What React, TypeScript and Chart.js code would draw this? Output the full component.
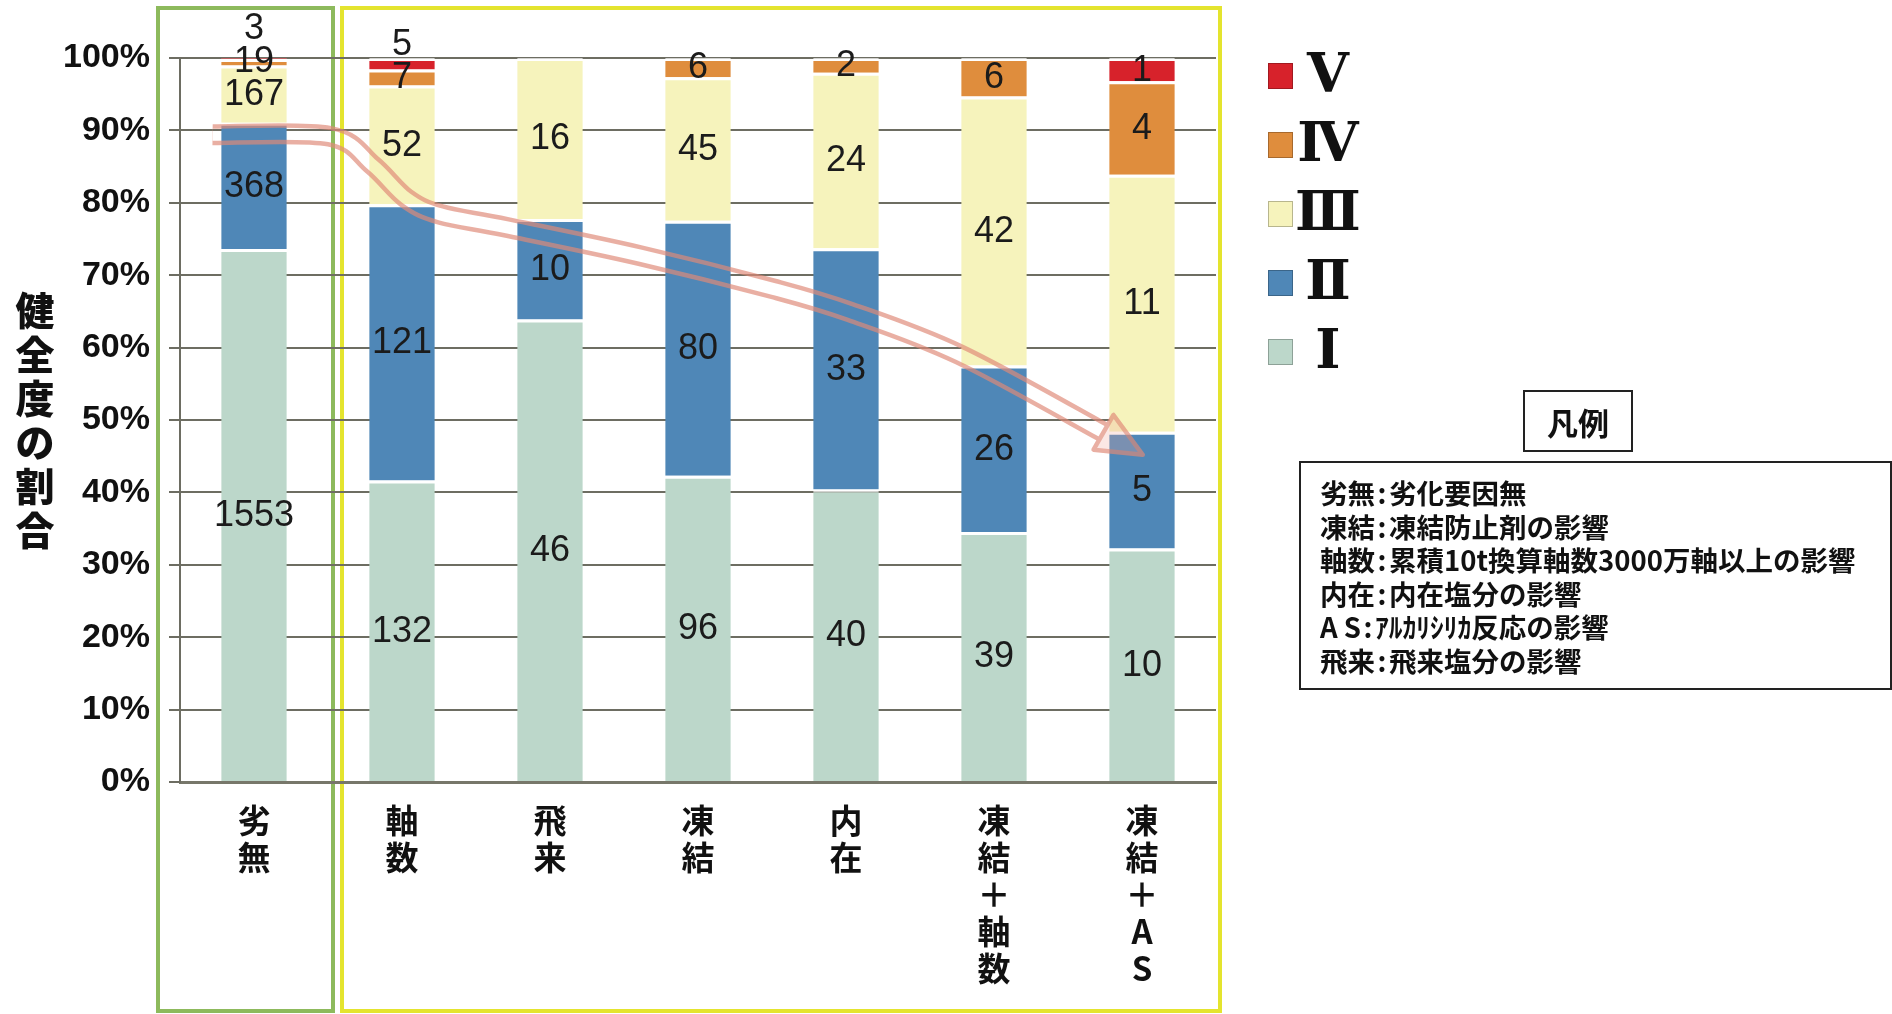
import React, { useEffect, useRef } from 'react';
import { Chart, registerables } from 'chart.js';

Chart.register(...registerables);

// ---------- data ----------
const categories: string[][] = [
  ['劣', '無'],
  ['軸', '数'],
  ['飛', '来'],
  ['凍', '結'],
  ['内', '在'],
  ['凍', '結', '＋', '軸', '数'],
  ['凍', '結', '＋', 'A', 'S'],
];
const seriesNames = ['Ⅰ', 'Ⅱ', 'Ⅲ', 'Ⅳ', 'Ⅴ'];
const countsI = [1553, 132, 46, 96, 40, 39, 10];
const countsII = [368, 121, 10, 80, 33, 26, 5];
const countsIII = [167, 52, 16, 45, 24, 42, 11];
const countsIV = [19, 7, 0, 6, 2, 6, 4];
const countsV = [3, 5, 0, 0, 0, 0, 1];
const seriesColors = ['#bcd7ca', '#4f87b7', '#f6f3bc', '#df8d3d', '#d7222b'];
const yTickValues = [0, 10, 20, 30, 40, 50, 60, 70, 80, 90, 100];
const yTitle = '健全度の割合';
const legendTitle = '凡例';
const noteKeys = ['劣無', '凍結', '軸数', '内在', 'A S', '飛来'];
const noteTexts = [
  '劣化要因無',
  '凍結防止剤の影響',
  '累積10t換算軸数3000万軸以上の影響',
  '内在塩分の影響',
  'ｱﾙｶﾘｼﾘｶ反応の影響',
  '飛来塩分の影響',
];
// trend arrow path in data units: [category index, percent]
const trendArrow: [number, number][] = [
  [-0.28, 89.4],
  [0.51, 89.2],
  [0.8, 85.2],
  [1.03, 80.6],
  [1.26, 78.4],
  [1.71, 76.6],
  [2.61, 72.7],
  [3.51, 68.1],
  [4.03, 64.9],
  [4.77, 59.0],
  [5.74, 48.3],
  [5.97, 45.6],
];

const seriesCounts = [countsI, countsII, countsIII, countsIV, countsV];
const totals = categories.map((_, c) => seriesCounts.reduce((s, arr) => s + arr[c], 0));

// ---------- plugins ----------
const frameBoxes = {
  id: 'frameBoxes',
  beforeDraw(chart: any) {
    const { ctx, chartArea } = chart;
    const xs = chart.scales.x;
    const b01 = xs.getPixelForValue(0.5);
    ctx.save();
    ctx.fillStyle = '#ffffff';
    ctx.fillRect(chartArea.left, chartArea.top, chartArea.right - chartArea.left, chartArea.bottom - chartArea.top);
    ctx.lineWidth = 4;
    ctx.strokeStyle = '#8dba5c';
    ctx.strokeRect(chartArea.left - 22, 8, b01 + 5 - (chartArea.left - 22), chart.height - 11);
    ctx.strokeStyle = '#e4e42e';
    ctx.strokeRect(b01 + 14, 8, chartArea.right + 4 - (b01 + 14), chart.height - 11);
    ctx.restore();
  },
};

function smoothPath(ctx: CanvasRenderingContext2D, pts: { x: number; y: number }[]) {
  ctx.moveTo(pts[0].x, pts[0].y);
  for (let i = 0; i < pts.length - 1; i++) {
    const p0 = pts[i - 1] || pts[i];
    const p1 = pts[i];
    const p2 = pts[i + 1];
    const p3 = pts[i + 2] || p2;
    ctx.bezierCurveTo(
      p1.x + (p2.x - p0.x) / 6,
      p1.y + (p2.y - p0.y) / 6,
      p2.x - (p3.x - p1.x) / 6,
      p2.y - (p3.y - p1.y) / 6,
      p2.x,
      p2.y
    );
  }
}

const trendArrowPlugin = {
  id: 'trendArrow',
  afterDatasetsDraw(chart: any) {
    const xs = chart.scales.x;
    const ys = chart.scales.y;
    const pts = trendArrow.map(([i, p]) => ({ x: xs.getPixelForValue(i), y: ys.getPixelForValue(p) }));
    const tip = pts[pts.length - 1];
    const shaft = pts.slice(0, pts.length - 1);
    const base = shaft[shaft.length - 1];
    const off = document.createElement('canvas');
    off.width = chart.width;
    off.height = chart.height;
    const o = off.getContext('2d')!;
    o.lineJoin = 'round';
    o.lineCap = 'butt';
    o.beginPath();
    smoothPath(o, shaft);
    o.strokeStyle = '#e08a78';
    o.lineWidth = 21;
    o.stroke();
    o.globalCompositeOperation = 'destination-out';
    o.beginPath();
    smoothPath(o, shaft);
    o.lineWidth = 12;
    o.stroke();
    o.globalCompositeOperation = 'source-over';
    // head
    const dx = tip.x - base.x;
    const dy = tip.y - base.y;
    const len = Math.hypot(dx, dy) || 1;
    const nx = -dy / len;
    const ny = dx / len;
    const hw = 20;
    o.beginPath();
    o.moveTo(base.x + nx * hw, base.y + ny * hw);
    o.lineTo(tip.x + (dx / len) * 6, tip.y + (dy / len) * 6);
    o.lineTo(base.x - nx * hw, base.y - ny * hw);
    o.closePath();
    o.fillStyle = 'rgba(240,170,160,0.4)';
    o.fill();
    o.lineWidth = 4.5;
    o.strokeStyle = '#e08a78';
    o.stroke();
    const ctx = chart.ctx;
    ctx.save();
    ctx.globalAlpha = 0.68;
    ctx.drawImage(off, 0, 0);
    ctx.restore();
  },
};

const valueLabels = {
  id: 'valueLabels',
  afterDatasetsDraw(chart: any) {
    const ctx = chart.ctx;
    ctx.save();
    ctx.font = '36px "Liberation Sans", Arial, sans-serif';
    ctx.textAlign = 'center';
    ctx.textBaseline = 'middle';
    ctx.fillStyle = '#1b1b1b';
    for (let c = 0; c < categories.length; c++) {
      let prevY = Infinity;
      seriesCounts.forEach((arr, di) => {
        const count = arr[c];
        if (!count) return;
        const el = chart.getDatasetMeta(di).data[c];
        if (!el) return;
        const center = (el.y + el.base) / 2;
        const y = Math.min(center, prevY - 33);
        ctx.fillText(String(count), el.x, y + 1);
        prevY = y;
      });
    }
    ctx.restore();
  },
};

const sideLegend = {
  id: 'sideLegend',
  afterDraw(chart: any) {
    const { ctx, chartArea } = chart;
    ctx.save();
    const step = 69;
    const top = chartArea.top + 18;
    for (let k = 0; k < seriesNames.length; k++) {
      const di = seriesNames.length - 1 - k;
      const cy = top + k * step;
      const sx = chartArea.right + 52;
      ctx.fillStyle = seriesColors[di];
      ctx.fillRect(sx, cy - 13, 25, 26);
      ctx.strokeStyle = 'rgba(0,0,0,0.25)';
      ctx.lineWidth = 1;
      ctx.strokeRect(sx + 0.5, cy - 12.5, 24, 25);
      ctx.fillStyle = '#111';
      ctx.font = 'bold 54px "DejaVu Serif", "DejaVu Sans", serif';
      ctx.textAlign = 'center';
      ctx.textBaseline = 'middle';
      ctx.fillText(seriesNames[di], chartArea.right + 112, cy + 2);
    }
    ctx.restore();
  },
};

const yTitlePlugin = {
  id: 'yTitleStack',
  afterDraw(chart: any) {
    const { ctx, chartArea } = chart;
    const chars = Array.from(yTitle);
    const step = 44;
    const mid = (chartArea.top + chartArea.bottom) / 2;
    const start = mid - ((chars.length - 1) * step) / 2;
    ctx.save();
    ctx.font = '900 39px "Noto Sans CJK JP", sans-serif';
    ctx.textAlign = 'center';
    ctx.textBaseline = 'middle';
    ctx.fillStyle = '#111';
    chars.forEach((ch, i) => ctx.fillText(ch, 35, start + i * step));
    ctx.restore();
  },
};

export default function App() {
  const ref = useRef<HTMLCanvasElement>(null);

  useEffect(() => {
    document.body.style.margin = '0';
    const canvas = ref.current!;
    const chart = new Chart(canvas, {
      type: 'bar',
      data: {
        labels: categories,
        datasets: seriesCounts.map((arr, di) => ({
          label: seriesNames[di],
          data: arr.map((v, c) => (v === 0 ? null : (v / totals[c]) * 100)),
          backgroundColor: seriesColors[di],
          borderColor: 'rgba(255,255,255,0.7)',
          borderWidth: { top: 3, left: 0, right: 0, bottom: 0 },
          borderSkipped: false,
          barPercentage: 0.443,
          categoryPercentage: 1,
        })),
      },
      options: {
        responsive: false,
        animation: false,
        devicePixelRatio: 1,
        layout: { padding: { left: 0, top: 58, right: 676, bottom: 0 } },
        plugins: {
          legend: { display: false },
          tooltip: { enabled: false },
        },
        scales: {
          x: {
            stacked: true,
            grid: { display: false, drawTicks: false },
            border: { display: true, color: '#77776a', width: 3 },
            ticks: {
              color: '#111',
              padding: 20,
              autoSkip: false,
              maxRotation: 0,
              font: { family: '"Noto Sans CJK JP", sans-serif', size: 33, weight: 'bold', lineHeight: 1.12 },
            },
            afterFit: (s: any) => {
              s.height = 232;
            },
          },
          y: {
            stacked: true,
            min: 0,
            max: 100,
            afterBuildTicks: (s: any) => {
              s.ticks = yTickValues.map((v) => ({ value: v }));
            },
            grid: { color: '#6d6d62', lineWidth: 2, tickLength: 11 },
            border: { display: true, color: '#6d6d62', width: 2 },
            ticks: {
              color: '#111',
              padding: 19,
              callback: (v: any) => `${v}%`,
              font: { family: '"Liberation Sans", Arial, sans-serif', size: 34, weight: 'bold' },
            },
            afterFit: (s: any) => {
              s.width = 180;
            },
          },
        },
      },
      plugins: [frameBoxes, trendArrowPlugin, valueLabels, sideLegend, yTitlePlugin],
    } as any);
    return () => chart.destroy();
  }, []);

  return (
    <div style={{ position: 'absolute', left: 0, top: 0, width: 1892, height: 1014, background: '#fff', overflow: 'hidden' }}>
      <canvas ref={ref} width={1892} height={1014} style={{ position: 'absolute', left: 0, top: 0, width: 1892, height: 1014 }} />
      <div
        style={{
          position: 'absolute',
          left: 1523,
          top: 390,
          width: 110,
          height: 62,
          border: '2px solid #222',
          boxSizing: 'border-box',
          display: 'flex',
          alignItems: 'center',
          justifyContent: 'center',
          font: 'bold 31px "Noto Sans CJK JP", sans-serif',
          color: '#111',
        }}
      >
        {legendTitle}
      </div>
      <div
        style={{
          position: 'absolute',
          left: 1299,
          top: 461,
          width: 593,
          height: 229,
          border: '2px solid #222',
          boxSizing: 'border-box',
          padding: '13px 0 0 19px',
          font: 'bold 27.5px/33.5px "Noto Sans CJK JP", sans-serif',
          color: '#111',
          whiteSpace: 'pre',
        }}
      >
        {noteKeys.map((k, i) => (
          <div key={i}>
            <span>{k}</span>
            <span style={{ display: 'inline-block', width: 14, textAlign: 'center' }}>:</span>
            <span>{noteTexts[i]}</span>
          </div>
        ))}
      </div>
    </div>
  );
}
